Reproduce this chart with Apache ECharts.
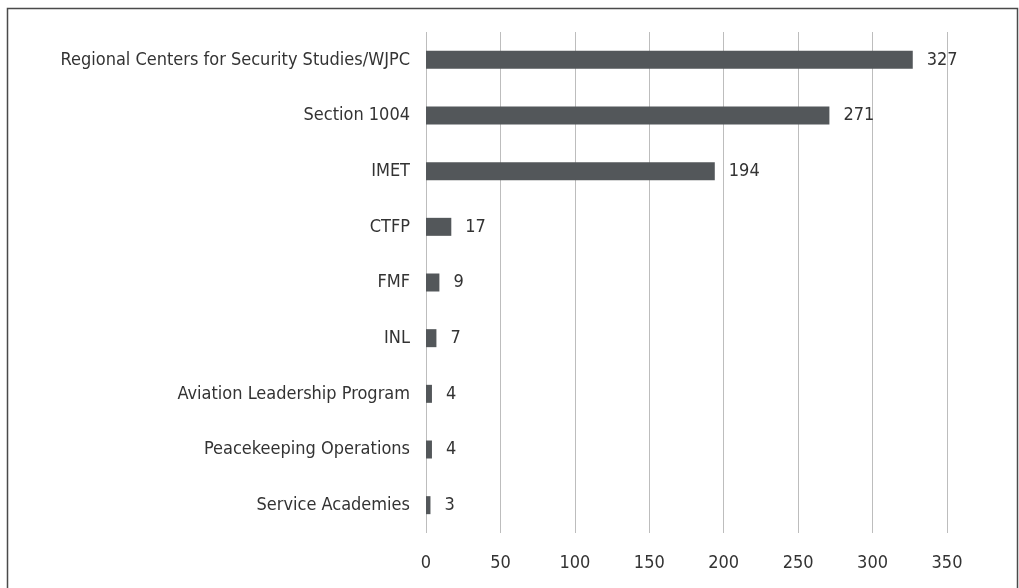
<!DOCTYPE html>
<html lang="en">
    <head>
        <meta charset="UTF-8">
        <title>Training programs</title>
        <script src="https://cdn.jsdelivr.net/npm/echarts@6/dist/echarts.min.js"></script>
        <style>
            html, body { margin: 0; padding: 0; background: #fff; }
            #chart { width: 1019px; height: 588px; }
        </style>
    </head>
    <body>
        <div id="chart"></div>
        <script>
            // data
            var categories = [
                'Regional Centers for Security Studies/WJPC',
                'Section 1004',
                'IMET',
                'CTFP',
                'FMF',
                'INL',
                'Aviation Leadership Program',
                'Peacekeeping Operations',
                'Service Academies'
            ];
            var values = [327, 271, 194, 17, 9, 7, 4, 4, 3];
            var xTicks = [0, 50, 100, 150, 200, 250, 300, 350];

            var font = '"DejaVu Sans Condensed", "Liberation Sans Narrow", sans-serif';
            var chart = echarts.init(document.getElementById('chart'), null, { renderer: 'canvas' });

            chart.setOption({
                animation: false,
                grid: { left: 426, right: 72, top: 32, bottom: 55, outerBoundsMode: 'none' },
                graphic: [{
                    type: 'rect',
                    shape: { x: 7.5, y: 8.5, width: 1010, height: 620 },
                    style: { fill: 'none', stroke: '#4a4a4a', lineWidth: 1.5 }
                }],
                xAxis: {
                    type: 'value',
                    min: xTicks[0],
                    max: xTicks[xTicks.length - 1],
                    interval: 50,
                    axisLine: { show: false },
                    axisTick: { show: false },
                    axisLabel: { color: '#333', fontSize: 18, fontFamily: font, margin: 21 },
                    splitLine: { lineStyle: { color: '#bdbdbd', width: 1 } }
                },
                yAxis: {
                    type: 'category',
                    inverse: true,
                    data: categories,
                    axisLine: { show: false },
                    axisTick: { show: false },
                    axisLabel: { color: '#333', fontSize: 18, fontFamily: font, margin: 16 }
                },
                series: [{
                    type: 'bar',
                    data: values,
                    barWidth: 18,
                    itemStyle: { color: '#53575a' },
                    label: {
                        show: true,
                        position: 'right',
                        distance: 14,
                        color: '#333',
                        fontSize: 18,
                        fontFamily: font
                    }
                }]
            });
        </script>
    </body>
</html>
